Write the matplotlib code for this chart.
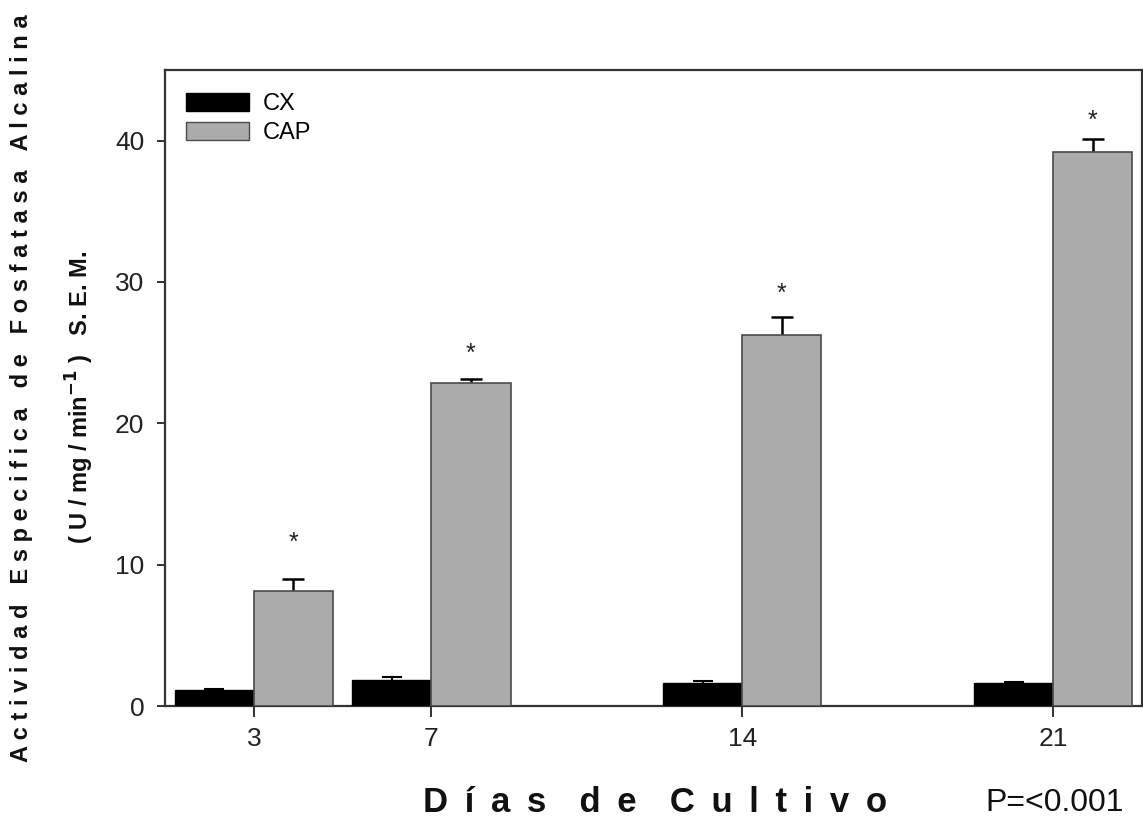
import matplotlib
matplotlib.use("Agg")
import matplotlib.pyplot as plt
from matplotlib.patches import Patch

plt.rcParams['font.family'] = ['Liberation Sans', 'DejaVu Sans']

# ---- data ----
days = [3, 7, 14, 21]
cx_mean = [1.1, 1.85, 1.65, 1.65]
cx_sem = [0.1, 0.2, 0.15, 0.05]
cap_mean = [8.15, 22.85, 26.25, 39.2]
cap_sem = [0.85, 0.3, 1.3, 0.9]
star_y = [12.1, 25.5, 29.7, 42.0]
series_labels = ['CX', 'CAP']
y_ticks = [0, 10, 20, 30, 40]

W, H = 1143, 823
fig = plt.figure(figsize=(W / 100, H / 100), dpi=100)
ax = fig.add_axes([165 / W, 1 - 706 / H, (1142 - 165) / W, (706 - 70) / H])

bw = 1.78
cx_x = [d - bw / 2 for d in days]
cap_x = [d + bw / 2 for d in days]

ax.bar(cx_x, cx_mean, width=bw, color='black', edgecolor='black', linewidth=1, zorder=3)
ax.bar(cap_x, cap_mean, width=bw, color='#ababab', edgecolor='#4a4a4a', linewidth=1.2, zorder=3)

# symmetric error bars drawn behind the bars -> only the upper half is visible
ax.errorbar(cx_x, cx_mean, yerr=cx_sem, fmt='none',
            ecolor='black', elinewidth=1.5, capsize=7, capthick=1.5, zorder=2)
ax.errorbar(cap_x, cap_mean, yerr=cap_sem, fmt='none',
            ecolor='black', elinewidth=1.8, capsize=8, capthick=1.8, zorder=2)

fs_star = 18
for x, y in zip(cap_x, star_y):
    ax.annotate('*', xy=(x, y), xytext=(0, -0.6 * fs_star), textcoords='offset points',
                ha='center', va='baseline', fontsize=fs_star, color='#222222')

ax.set_xlim(1, 23)
ax.set_ylim(0, 45)
ax.set_xticks(days)
ax.set_xticklabels([str(d) for d in days])
ax.set_yticks(y_ticks)
ax.tick_params(axis='both', direction='out', labelsize=19, colors='#222222')
ax.tick_params(axis='x', length=8, width=1.3, pad=7)
ax.tick_params(axis='y', length=6, width=1.3, pad=9)
for sp in ax.spines.values():
    sp.set_color('#333333')
    sp.set_linewidth(1.6)

handles = [Patch(facecolor='black', edgecolor='black'),
           Patch(facecolor='#ababab', edgecolor='#4a4a4a')]
ax.legend(handles, series_labels, loc='upper left', bbox_to_anchor=(0.005, 0.99),
          frameon=False, fontsize=17, handlelength=2.65, handleheight=0.8,
          handletextpad=0.6, labelspacing=0.3, borderaxespad=0.3)

def spaced(words, intra=' \u2009', inter=' \u2009 \u2009'):
    return inter.join(intra.join(w) for w in words)

fig.text(655 / W, 1 - 803 / H, spaced(['Días', 'de', 'Cultivo']),
         ha='center', va='center', fontsize=25, fontweight='bold', color='#111111')
fig.text(985 / W, 1 - 803 / H, 'P=<0.001', ha='left', va='center', fontsize=23,
         color='#111111')

fig.text(22 / W, 1 - 388 / H,
         spaced(['Actividad', 'Especifica', 'de', 'Fosfatasa', 'Alcalina'], intra=' ', inter='   '),
         rotation=90, ha='center', va='center', fontsize=17, fontweight='bold', color='#111111')
fig.text(80 / W, 1 - 397 / H,
         '( U / mg / min$^{\\mathbf{-1}}$ )   S. E. M.',
         rotation=90, ha='center', va='center', fontsize=17, fontweight='bold', color='#111111')

fig.savefig('out.png', dpi=100, facecolor='white')
